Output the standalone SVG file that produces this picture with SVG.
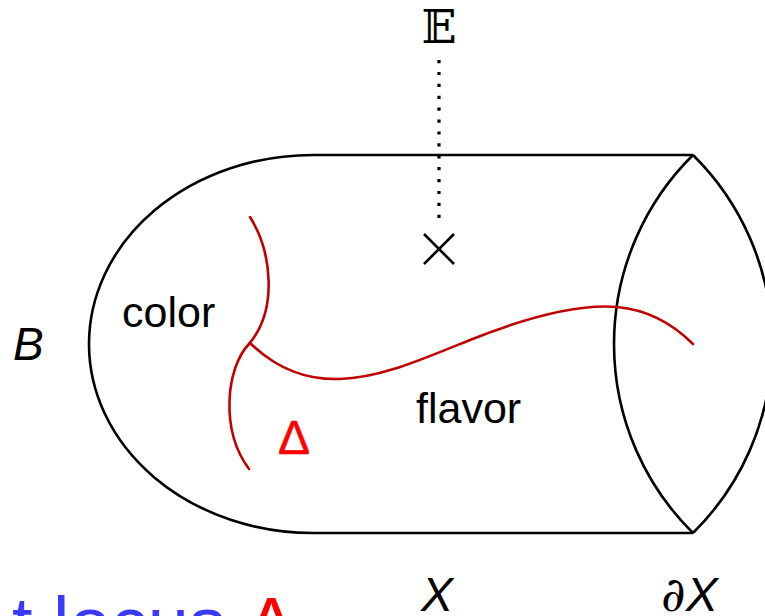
<svg xmlns="http://www.w3.org/2000/svg" width="765" height="616" viewBox="0 0 765 616">
<style>
.edge{fill:none;stroke:#000;stroke-width:2.6}
.red{fill:none;stroke:#c00000;stroke-width:2.6;stroke-linecap:round}
.lbl{font-family:"Liberation Sans",Arial,sans-serif;fill:#000}
.it{font-style:italic}
</style>
<rect width="765" height="616" fill="#fff"/>
<g id="body">
<path class="edge" d="M693,155 L313,155 A224,189 0 0 0 313,533 L693,533"/>
</g>
<g id="boundary">
<path class="edge" d="M693,155 A265.6,265.6 0 0 0 693,533"/>
<path class="edge" d="M693,155 A265.6,265.6 0 0 1 693,533"/>
</g>
<g id="connectors">
<path class="red" d="M250,217 C272,252 278,310 249,344"/>
<path class="red" d="M249,344 C226,368 220,430 249,469"/>
<path class="red" d="M250,343 C280,372 310,380 340,379 C380,378 420,360 470,340 C530,316 580,304 617,307 C650,310 675,326 693,344"/>
<line x1="439" y1="60" x2="439" y2="220" stroke="#000" stroke-width="3.2" stroke-dasharray="3.2 8.7"/>
</g>
<g id="E-node">
<text x="439" y="43" text-anchor="middle" font-family="DejaVu Serif, DejaVu Sans, serif" font-size="46" fill="#000">𝔼</text>
</g>
<g id="cross">
<line x1="424" y1="234" x2="454" y2="264" stroke="#000" stroke-width="2.6"/>
<line x1="454" y1="234" x2="424" y2="264" stroke="#000" stroke-width="2.6"/>
</g>
<g id="labels">
<text class="lbl it" x="13" y="360" font-size="46">B</text>
<text class="lbl" x="122" y="327" font-size="43">color</text>
<text class="lbl" x="416" y="423" font-size="43">flavor</text>
<text x="278" y="454" font-family="Liberation Sans,Arial,sans-serif" font-size="48" fill="#ff0000" stroke="#ff0000" stroke-width="0.5">Δ</text>
<text class="lbl it" x="421" y="611" font-size="48">X</text>
<text x="661" y="611" font-size="48" fill="#000"><tspan font-family="DejaVu Serif,Liberation Serif,serif" font-style="italic">∂</tspan><tspan font-family="Liberation Sans,Arial,sans-serif" font-style="italic">X</tspan></text>
<text x="12" y="649" font-family="Liberation Sans,Arial,sans-serif" font-size="74" fill="#3a3aff">t locus <tspan fill="#ff0000">Δ</tspan></text>
</g>
</svg>
